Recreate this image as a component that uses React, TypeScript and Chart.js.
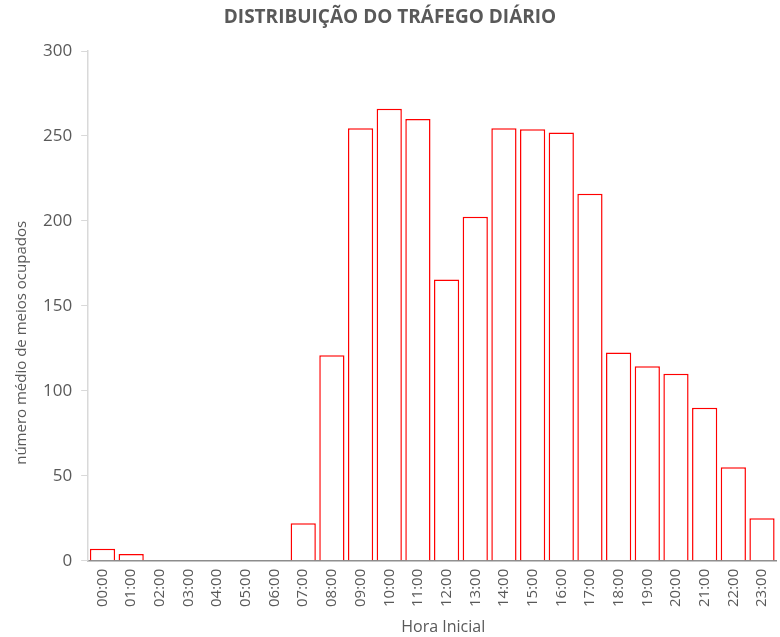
import React, { useEffect, useRef } from "react";
import { Chart, registerables } from "chart.js";

Chart.register(...registerables);

const categories = ["00:00","01:00","02:00","03:00","04:00","05:00","06:00","07:00","08:00","09:00","10:00","11:00","12:00","13:00","14:00","15:00","16:00","17:00","18:00","19:00","20:00","21:00","22:00","23:00"];
const values = [7, 4, 0, 0, 0, 0, 0, 22, 121, 254.5, 266, 260, 165.5, 202.5, 254.5, 254, 252, 216, 122.5, 114.5, 110, 90, 55, 25];
const titleText = "DISTRIBUIÇÃO DO TRÁFEGO DIÁRIO";
const yTitle = "número médio de meios ocupados";
const xTitle = "Hora Inicial";

const textLabels = {
  id: "textLabels",
  afterDraw(chart: any) {
    const ctx = chart.ctx as CanvasRenderingContext2D;
    const area = chart.chartArea;
    ctx.save();
    ctx.fillStyle = "#595959";
    ctx.textAlign = "center";
    ctx.textBaseline = "middle";
    ctx.font = 'bold 19px "Open Sans"';
    ctx.fillText(titleText, 390, 18);
    ctx.restore();
    ctx.save();
    ctx.fillStyle = "#595959";
    ctx.textAlign = "center";
    ctx.textBaseline = "middle";
    ctx.font = '15px "Open Sans"';
    ctx.translate(22, (area.top + area.bottom) / 2 + 37);
    ctx.rotate(-Math.PI / 2);
    ctx.fillText(yTitle, 0, 0);
    ctx.restore();
    ctx.save();
    ctx.fillStyle = "#595959";
    ctx.textAlign = "center";
    ctx.textBaseline = "middle";
    ctx.font = '16px "Open Sans"';
    ctx.fillText(xTitle, (area.left + area.right) / 2 + 11, 627);
    ctx.restore();
  },
};

export default function App() {
  const ref = useRef<HTMLCanvasElement>(null);
  useEffect(() => {
    document.body.style.margin = "0";
    const ctx = ref.current!;
    const chart = new Chart(ctx, {
      type: "bar",
      data: {
        labels: categories,
        datasets: [{
          data: values,
          backgroundColor: "#ffffff",
          borderColor: "#ff0000",
          borderWidth: 1.5,
          barPercentage: 0.88,
          categoryPercentage: 1,
        }],
      },
      plugins: [textLabels],
      options: {
        animation: false,
        responsive: false,
        devicePixelRatio: 1,
        layout: { padding: { left: 34, right: 0, top: 51, bottom: 22 } },
        plugins: {
          legend: { display: false },
          tooltip: { enabled: false },
          title: { display: false },
        },
        scales: {
          x: {
            grid: { display: false, drawTicks: false },
            border: { display: true, color: "#8c8c8c", width: 1.5 },
            ticks: {
              color: "#595959",
              font: { family: "Open Sans", size: 15 },
              maxRotation: 90,
              minRotation: 90,
              padding: 8,
              autoSkip: false,
            },
          },
          y: {
            min: 0,
            max: 300,
            grid: { display: true, drawOnChartArea: false, drawTicks: true, tickLength: 7, color: "#d9d9d9" },
            border: { display: true, color: "#d9d9d9", width: 1.5 },
            ticks: {
              stepSize: 50,
              color: "#595959",
              font: { family: "Open Sans", size: 17 },
              padding: 9,
            },
          },
        },
      },
    });
    return () => chart.destroy();
  }, []);
  return (
    <div style={{ width: 780, height: 637, background: "#fff", overflow: "hidden" }}>
      <canvas ref={ref} width={788} height={637} style={{ display: "block" }} />
    </div>
  );
}
